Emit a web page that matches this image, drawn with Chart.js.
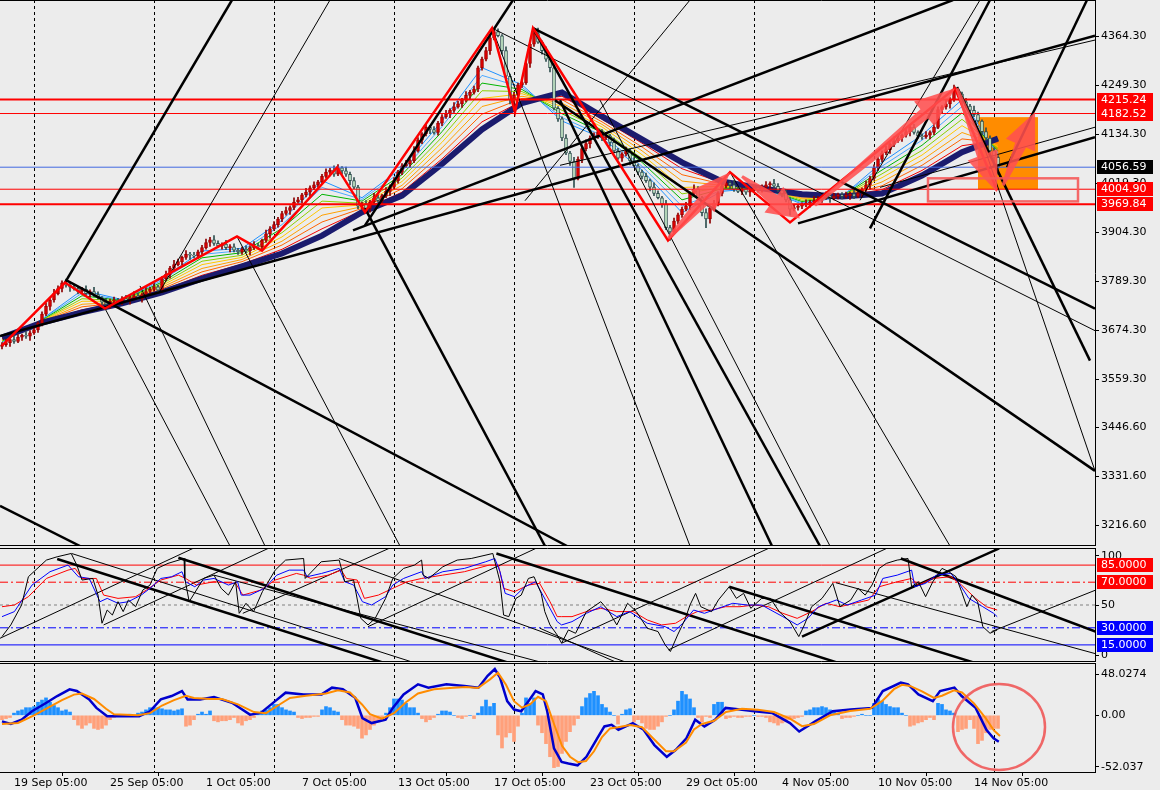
<!DOCTYPE html>
<html><head><meta charset="utf-8">
<script src="https://cdn.jsdelivr.net/npm/chart.js@4.4.1/dist/chart.umd.min.js"></script>
<style>
html,body{margin:0;padding:0;background:#ececec;width:1160px;height:790px;overflow:hidden}
.pane{position:absolute;left:0;width:1160px}
canvas{display:block}
</style></head><body>
<div class="pane" style="top:0;height:546px"><canvas id="cMain" width="1160" height="546"></canvas></div>
<div class="pane" style="top:548px;height:114px"><canvas id="cSto" width="1160" height="114"></canvas></div>
<div class="pane" style="top:663px;height:127px"><canvas id="cMacd" width="1160" height="127"></canvas></div>
<script>
// ---------------- DATA ----------------
const opens=[3636,3640,3645,3652,3648,3658,3662,3660,3668,3675,
3690,3712,3730,3745,3760,3772,3785,3780,3775,3772,
3765,3770,3760,3765,3758,3750,3740,3735,3742,3745,
3740,3748,3744,3750,3755,3748,3758,3765,3770,3776,
3768,3795,3805,3820,3828,3835,3845,3852,3850,3848,
3858,3868,3880,3886,3878,3872,3876,3868,3870,3862,
3858,3864,3860,3868,3872,3870,3885,3900,3912,3922,
3935,3948,3955,3962,3975,3980,3992,3998,4008,4015,
4022,4035,4045,4050,4040,4055,4048,4040,4025,4010,
3965,3970,3960,3975,3985,3978,3990,4000,4010,4025,
4045,4060,4065,4072,4095,4120,4135,4150,4145,4138,
4160,4175,4182,4190,4198,4205,4215,4225,4232,4240,
4290,4310,4330,4360,4375,4365,4330,4270,4215,4225,
4250,4255,4300,4345,4370,4350,4330,4310,4290,4195,
4170,4125,4090,4070,4030,4075,4100,4112,4125,4130,
4140,4125,4130,4115,4095,4078,4088,4095,4072,4060,
4045,4035,4025,4010,3995,3985,3970,3915,3905,3930,
3945,3958,3966,3995,4005,3985,3950,3935,3960,3972,
3995,4012,4020,4015,4005,4000,4005,3998,4002,4008,
4004,4010,4015,4018,4012,4002,3995,3980,3958,3962,
3965,3968,3972,3975,3978,3982,3986,3990,3984,3988,
3992,3988,3990,3994,3988,3996,4005,4015,4030,4055,
4075,4090,4098,4110,4118,4125,4132,4140,4150,4138,
4130,4128,4132,4138,4150,4192,4198,4205,4215,4238,
4228,4210,4200,4190,4180,4165,4140,4125,4095,4080];
const highs=[3645,3653,3656,3662,3664,3665,3671,3673,3682,3694,
3717,3738,3749,3770,3778,3790,3794,3785,3782,3776,
3775,3778,3769,3775,3764,3753,3749,3747,3752,3749,
3753,3756,3754,3765,3761,3761,3774,3775,3783,3780,
3800,3813,3824,3838,3841,3848,3861,3857,3857,3862,
3873,3888,3892,3896,3884,3879,3885,3875,3877,3866,
3869,3872,3872,3882,3878,3888,3909,3917,3929,3939,
3953,3963,3966,3985,3986,3995,4007,4013,4022,4026,
4040,4053,4054,4060,4063,4058,4057,4045,4032,4014,
3975,3978,3979,3995,3991,3993,4009,4015,4032,4049,
4065,4073,4076,4105,4126,4138,4159,4155,4152,4164,
4180,4190,4194,4208,4211,4218,4234,4237,4247,4294,
4315,4338,4364,4383,4381,4368,4339,4275,4232,4254,
4260,4308,4349,4380,4383,4353,4339,4315,4297,4199,
4175,4133,4094,4080,4081,4103,4121,4130,4137,4144,
4145,4138,4134,4125,4101,4091,4104,4100,4079,4064,
4050,4043,4029,4020,4001,3988,3979,3920,3937,3949,
3963,3974,3999,4015,4011,3988,3959,3965,3979,3999,
4017,4028,4024,4025,4011,4008,4014,4007,4015,4012,
4015,4023,4022,4028,4018,4005,4004,3985,3969,3969,
3973,3980,3979,3988,3988,3989,3999,3995,3995,3996,
3997,3998,3998,4004,4002,4008,4024,4035,4062,4079,
4095,4106,4114,4128,4131,4135,4149,4155,4157,4142,
4135,4140,4142,4160,4198,4201,4214,4220,4249,4242,
4233,4218,4204,4200,4186,4168,4149,4130,4102,4084];
const lows=[3630,3636,3636,3643,3645,3650,3655,3650,3664,3669,
3684,3708,3721,3740,3757,3764,3775,3765,3768,3759,
3759,3756,3751,3753,3747,3732,3730,3725,3738,3734,
3734,3740,3735,3745,3745,3740,3753,3755,3766,3762,
3762,3791,3796,3815,3825,3827,3840,3840,3844,3842,
3852,3864,3871,3873,3869,3864,3863,3858,3858,3852,
3852,3856,3851,3863,3867,3862,3880,3890,3908,3916,
3929,3944,3946,3957,3972,3972,3987,3988,4004,4009,
4016,4031,4036,4035,4037,4040,4035,4015,4006,3959,
3959,3956,3951,3970,3975,3970,3985,3990,4006,4019,
4039,4056,4056,4067,4092,4112,4130,4135,4134,4132,
4154,4171,4173,4185,4195,4197,4210,4215,4228,4234,
4284,4306,4321,4355,4362,4322,4265,4205,4190,4219,
4244,4251,4291,4340,4347,4322,4305,4280,4191,4164,
4119,4086,4061,4009,4027,4067,4095,4102,4121,4124,
4119,4121,4106,4090,4075,4070,4083,4062,4056,4039,
4029,4021,4001,3990,3982,3962,3910,3885,3901,3924,
3939,3954,3957,3990,3982,3942,3915,3925,3956,3966,
3989,4008,4006,4000,3997,3992,3993,3988,3998,3998,
3998,4006,4006,4007,3999,3987,3975,3944,3954,3956,
3959,3964,3963,3970,3975,3974,3981,3974,3980,3982,
3982,3984,3981,3983,3985,3988,4000,4005,4026,4049,
4069,4086,4089,4105,4115,4117,4127,4130,4134,4124,
4122,4124,4123,4133,4147,4184,4193,4195,4211,4222,
4204,4196,4181,4175,4162,4132,4120,4085,4060,4040];
const closes=[3640,3645,3652,3648,3658,3662,3660,3668,3675,3690,
3712,3730,3745,3760,3772,3785,3780,3775,3772,3765,
3770,3760,3765,3758,3750,3740,3735,3742,3745,3740,
3748,3744,3750,3755,3748,3758,3765,3770,3776,3768,
3795,3805,3820,3828,3835,3845,3852,3850,3848,3858,
3868,3880,3886,3878,3872,3876,3868,3870,3862,3858,
3864,3860,3868,3872,3870,3885,3900,3912,3922,3935,
3948,3955,3962,3975,3980,3992,3998,4008,4015,4022,
4035,4045,4050,4040,4055,4048,4040,4025,4010,3965,
3970,3960,3975,3985,3978,3990,4000,4010,4025,4045,
4060,4065,4072,4095,4120,4135,4150,4145,4138,4160,
4175,4182,4190,4198,4205,4215,4225,4232,4240,4290,
4310,4330,4360,4375,4365,4330,4270,4215,4225,4250,
4255,4300,4345,4370,4350,4330,4310,4290,4195,4170,
4125,4090,4070,4030,4075,4100,4112,4125,4130,4140,
4125,4130,4115,4095,4078,4088,4095,4072,4060,4045,
4035,4025,4010,3995,3985,3970,3915,3905,3930,3945,
3958,3966,3995,4005,3985,3950,3935,3960,3972,3995,
4012,4020,4015,4005,4000,4005,3998,4002,4008,4004,
4010,4015,4018,4012,4002,3995,3980,3958,3962,3965,
3968,3972,3975,3978,3982,3986,3990,3984,3988,3992,
3988,3990,3994,3988,3996,4005,4015,4030,4055,4075,
4090,4098,4110,4118,4125,4132,4140,4150,4138,4130,
4128,4132,4138,4150,4192,4198,4205,4215,4238,4228,
4210,4200,4190,4180,4165,4140,4125,4095,4080,4056.59];

// moving-average ribbon, fastest to slowest (sampled bars)
const ribIdx=[0,10,20,30,40,50,60,70,80,90,100,110,120,130,140,150,160,170,180,190,200,210,220,230,240,249];
const rib1=[3645,3700,3768,3746,3795,3860,3866,3932,4025,3985,4055,4165,4290,4250,4165,4125,4050,3950,4000,4008,3970,3988,4068,4132,4215,4085];
const rib2=[3646,3699,3761,3745,3791,3852,3861,3922,4009,3981,4047,4152,4272,4244,4173,4131,4059,3965,4003,4008,3973,3988,4059,4120,4199,4090];
const rib3=[3648,3698,3755,3744,3787,3844,3856,3913,3993,3977,4039,4140,4254,4239,4182,4138,4068,3980,4006,4008,3976,3988,4050,4108,4184,4095];
const rib4=[3649,3697,3748,3743,3783,3836,3850,3903,3977,3972,4031,4127,4236,4234,4190,4144,4077,3994,4009,4008,3979,3988,4041,4096,4169,4100];
const rib5=[3651,3696,3742,3742,3779,3828,3845,3893,3961,3968,4023,4115,4218,4229,4199,4151,4086,4009,4012,4008,3982,3988,4032,4085,4154,4105];
const rib6=[3652,3695,3735,3740,3775,3819,3840,3883,3944,3964,4014,4102,4199,4223,4207,4157,4095,4024,4014,4007,3984,3988,4022,4073,4138,4109];
const rib7=[3654,3694,3729,3739,3771,3811,3835,3874,3928,3960,4006,4089,4181,4218,4215,4163,4104,4039,4017,4007,3987,3988,4013,4061,4123,4114];
const rib8=[3655,3693,3722,3738,3767,3803,3829,3864,3912,3955,3998,4076,4163,4212,4223,4169,4113,4053,4020,4007,3990,3988,4004,4049,4107,4119];
const navyMA=[3657,3692,3716,3737,3763,3795,3824,3854,3896,3951,3990,4064,4145,4207,4232,4176,4122,4068,4023,4007,3993,3988,3995,4037,4092,4124];

// price levels and axis
const hLevels=[4215.24,4182.52,4056.59,4004.90,3969.84];
const priceTags=[4215.24,4182.52,4056.59,4004.90,3969.84];
const yTicks=[4364.30,4249.30,4134.30,4019.30,3904.30,3789.30,3674.30,3559.30,3446.60,3331.60,3216.60];
const timeIdx=[3,27,51,75,99,123,147,171,195,219,243];
const timeLabels=['19 Sep 05:00','25 Sep 05:00','1 Oct 05:00','7 Oct 05:00','13 Oct 05:00','17 Oct 05:00','23 Oct 05:00','29 Oct 05:00','4 Nov 05:00','10 Nov 05:00','14 Nov 05:00'];
const gridIdx=[8,38,68,98,128,158,188,218,248];

// drawings on price chart: [bar1, price1, bar2, price2]
const zigzag=[[0,3638],[15.75,3786],[25.75,3725],[58.75,3894],[65,3861],[83.75,4056],[90.75,3951],[122.5,4383],[128.25,4186],[132.75,4383],[166.5,3885],[182,4045],[197,3927],[238.25,4242],[248.75,4002]];
const thickMain=[
[-0.5,3261.8,19.5,3167.8],[16.25,3790.7,141.25,3167.8],[90.75,3960,135.75,3167.8],
[132.75,4383,273.25,3724.9],[138.25,4213.8,273.25,3344.1],[-0.5,3660.5,273.25,4365],
[199,3924.7,273.25,4126.9],[15.75,3786,57.5,4448.9],[238.75,4244.4,272,3602.7],
[251.25,4056.4,271.25,4448.9],[87.75,3908.3,237.75,4448.9],[217,3912.9,247,4448.9],
[132.75,4383,204.5,3167.8],[139.5,4213.8,192.5,3167.8],[90.75,3920,127.75,4448.9]];
const thinMain=[
[25.75,3725,57,3167.8],[34.5,3778,65.75,3167.8],[58.75,3894,99.5,3167.8],
[122.5,4383,172,3167.8],[149.5,4214,207,3167.8],
[182,4045,237,3167.8],[39.5,3766,82,4448.9],
[130.75,3978,172,4448.9],[214.5,3979,244.5,4448.9],[122.5,4383,273.25,3673],
[219.5,4009.3,273.25,4150.4],[139.5,4061,273.25,4354.9],[243.25,4166.8,273.25,3344.1]];
const arrows=[[166.5,3889,182,4045],[185,4035,199.5,3936],[203.25,3967,238.25,4242],[238.75,4242,248.75,3998],[250.25,4014,258.25,4186]];
const orangeBox=[244,4174,259,4005];
const redBox=[231.5,4030.5,269,3976.4];

// stochastic
const stochK=[[0,22.3],[2.2,32.5],[4.9,50],[6.6,74.8],[11.1,89.4],[13.8,92.3],[17.3,95.2],[18.7,85],[20,71.9],[22.7,73.3],[24,58.7],[25,34],[26.3,45.6],[27.6,41.2],[29,52.9],[30.3,44.2],[31.6,54.4],[33.4,48.5],[35.2,63.1],[37,67.5],[38.8,82.1],[41.5,86.5],[45.5,90.8],[45.7,73.3],[46.8,52.9],[50.4,73.3],[53,76.2],[54.8,64.6],[56.6,58.7],[58.4,70.4],[59.3,42.7],[61,51.5],[62.9,44.2],[65.1,61.7],[68.3,80.6],[70.9,89.4],[75.4,90.8],[75.8,73.3],[79.8,87.9],[84.3,89.4],[85.7,70.4],[87.9,71.9],[89.7,38.3],[91.5,32.5],[93.3,38.3],[95.9,55.8],[97.7,73.3],[100.4,82.1],[103.1,85],[104.9,89.4],[105.3,76.2],[106.7,73.3],[110.2,83.5],[113.8,89.4],[117.3,90.8],[122.7,95.2],[124.5,70.4],[125.4,41.2],[126.7,39.8],[128.5,55.8],[129.8,58.7],[131.6,73.3],[133,74.8],[134.8,60.2],[135.7,44.2],[137,32.5],[138.8,23.7],[139.9,16.5],[141.6,28.1],[143.4,25.2],[146.1,44.2],[149.7,52.9],[151.5,45.6],[153.7,32.5],[156.4,51.5],[158.6,44.2],[161.3,29.6],[164,26.7],[165.8,15],[167.1,9.2],[168.9,23.7],[170.7,36.9],[172,50],[173.4,60.2],[174.7,48.5],[177.4,44.2],[179.1,54.4],[181.8,66],[183.6,55.8],[185.4,60.2],[187.2,47.1],[189.9,55.8],[192.1,55.8],[194.3,44.2],[197,35.4],[199.2,22.3],[200.6,32.5],[202.4,48.5],[205,55.8],[207.7,69],[209.5,48.5],[212.2,54.4],[214,64.6],[215.8,58.7],[217.5,67.5],[219.3,82.1],[221.1,86.5],[223.8,89.4],[226.5,90.8],[227.4,66],[229.1,70.4],[230.9,57.3],[232.7,70.4],[235,82.1],[236.7,79.2],[238.5,74.8],[239.9,61.7],[241.2,48.5],[242.5,58.7],[243.9,52.9],[245.2,31],[247,25.2],[248.8,28.1]];
const stochD=[[0,39.8],[3.1,44.2],[7.5,67.5],[12,79.2],[16.5,85],[19.1,74.8],[21.8,73.3],[24.5,52.9],[26.3,55.8],[29,51.5],[31.6,52.9],[34.8,58.7],[37,64.6],[39.7,73.3],[42.4,74.8],[45,79.2],[45.9,70.4],[48.2,66],[50.4,71.9],[53,73.3],[56.6,67.5],[58.9,70.4],[59.8,58.7],[62,58.7],[65.6,64.6],[68.7,76.2],[71.8,80.6],[75.4,80.6],[76.3,74.8],[79.9,77.7],[84.3,82.1],[85.7,70.4],[87.9,67.5],[90.1,52.9],[92.4,50],[95.9,57.3],[97.7,67.5],[100.4,73.3],[104.9,79.2],[105.8,73.3],[110.2,79.2],[115.6,82.1],[120.9,87.9],[123.2,90.8],[124.5,79.2],[125.8,60.2],[128.1,57.3],[130.7,66],[133.4,70.4],[136.1,52.9],[138.8,35.4],[139.9,32.5],[142.5,35.4],[146.1,42.7],[149.7,48.5],[153.7,39.8],[156.9,44.2],[161.3,34],[165.8,31],[168,26.7],[170.2,34],[172.9,45.6],[175.6,42.7],[179.1,47.1],[182.7,51.5],[186.3,50],[189.9,50],[195.2,39.8],[198.8,32.5],[201.5,38.3],[204.1,48.5],[208.6,54.4],[211.3,50],[214.9,54.4],[218.4,58.7],[220.2,73.3],[223.8,76.2],[227.4,80.6],[228.2,66],[230.9,69],[233.6,76.2],[237.2,77.7],[239,70.4],[241.7,55.8],[245.2,48.5],[247.9,42.7],[248.8,39.8]];
const stochS=[[0,48.5],[3.1,50],[6.6,57.3],[11.1,73.3],[16.5,80.6],[18.3,82.1],[20,73.3],[23.6,73.3],[25.4,58.7],[29,55.8],[33.4,57.3],[36.1,63.1],[39.7,71.9],[44.1,76.2],[45.9,73.3],[48.6,67.5],[53,70.4],[58.4,69],[60.2,58.7],[64.7,63.1],[68.3,71.9],[73.6,77.7],[75.4,76.2],[77.2,73.3],[81.6,76.2],[84.8,80.6],[86.1,73.3],[88.8,71.9],[90.6,55.8],[94.1,58.7],[97.7,64.6],[101.3,70.4],[104.9,73.3],[110.2,76.2],[115.6,79.2],[121.8,85],[124.1,85],[125.4,64.6],[128.1,61.7],[131.6,67.5],[134.4,69],[137,52.9],[138.8,39.8],[139.9,39.8],[142.5,39.8],[146.1,44.2],[149.7,47.1],[153.7,44.2],[157.8,44.2],[161.3,36.9],[164.9,32.5],[168.4,34],[171.1,39.8],[173.8,44.2],[177.4,45.6],[180.9,48.5],[184.5,48.5],[188.1,50],[191.6,48.5],[195.2,42.7],[198.8,38.3],[202.4,44.2],[206,51.5],[209.5,48.5],[213.1,51.5],[216.7,54.4],[219.3,66],[223.8,70.4],[227.4,73.3],[229.1,67.5],[232.7,73.3],[237.2,74.8],[239.9,67.5],[243.4,55.8],[246.1,48.5],[248.8,45.6]];
const stochLevels=[85,70,50,30,15];
const stochTagLevels=[85,70,30,15];
const stochTicks=[93,50,6];
const stochTickLabels=['100','50','0'];
const thickSto=[[13.8,90.3,99.3,-5],[44.1,91.4,130.5,-5],[123.6,95.2,212.8,-5],[181.8,66,247.1,-5],[224.7,90.8,274.5,25.2],[200,22.3,249.3,99.6]];
const thinSto=[[-0.5,20.8,49.5,102.5],[25.4,32.5,68.3,102.5],[60.2,42.7,98.6,102.5],[91.5,31,135.2,102.5],[139.9,16.5,193.4,102.5],[166.6,10.6,222.9,102.5],[247.4,26.7,274.5,64.6],[17.4,95.2,107,-5],[53,76.2,139.9,-5],[84.3,90.8,159.8,-5],[134.5,29.6,157.8,-6.9],[208.5,69.5,274.5,6.2]];

// MACD
const macdHist=[-4,-3,-2,2,4,5,7,7,8,12,
14,16,12,9,7,4,5,3,-4,-9,
-12,-9,-7,-12,-13,-12,-9,-4,-2,-1,
0,0,1,0,2,3,5,7,7,7,
6,5,5,4,5,6,-10,-9,-4,1,
3,1,4,-5,-6,-5,-5,-4,-2,-7,
-9,-5,-4,-2,2,4,5,7,10,10,
7,5,4,3,-2,-3,-2,-2,-1,-1,
5,8,7,4,3,-4,-9,-9,-10,-12,
-21,-18,-13,-9,-6,-4,2,7,15,15,
14,11,7,7,2,-3,-6,-4,-2,1,
4,4,3,0,-2,-3,-1,0,-3,2,
8,14,8,11,-18,-30,-20,-16,-24,-10,
2,16,11,16,-9,-16,-26,-38,-48,-47,
-35,-24,-15,-9,-3,8,16,20,22,18,
10,7,3,0,-8,1,5,6,-6,-4,
-7,-12,-13,-13,-10,-6,-1,0,5,13,
22,19,15,7,-2,-6,-1,-2,10,12,
12,-3,-2,-1,-2,-2,-1,-1,0,-1,
-1,-2,-6,-7,-9,-7,-6,-4,-3,-2,
-1,4,5,7,7,8,7,5,4,2,
-3,-2,-2,-1,0,1,0,0,11,15,
13,10,8,7,7,2,0,-10,-9,-7,
-6,-4,-2,-4,11,10,5,4,2,-15,
-13,-12,-4,-12,-26,-23,-16,-13,-12,-12];
const macdLine=[[0,-5.6],[2.2,-8],[4.9,-4],[7.5,3.7],[11.1,11.5],[13.8,17.7],[16.9,23.9],[18.7,22.3],[21.8,14.6],[23.6,6.8],[26.3,-0.9],[34.3,-0.9],[37,3.7],[39.7,14.6],[42.4,17.7],[45,22.3],[46.4,14.6],[49.5,14.6],[53,16.7],[57.5,11.5],[62,0.6],[64.7,2.2],[68.3,13],[70.9,20.8],[75.4,19.2],[79.9,19.2],[82.5,25.4],[85.2,23.9],[88.3,16.1],[90.1,-2.5],[92.4,-7.1],[95.9,-4],[97.7,6.8],[100.4,19.2],[104,28.5],[106.6,25.4],[111.1,28.5],[115.6,27],[119.1,25.4],[121.4,36.3],[123.2,42.5],[124.5,34.7],[126.3,13],[128,5.3],[129.8,3.7],[131.6,13],[133.4,22.3],[135.2,19.2],[136.3,3.7],[138,-30.4],[139.9,-42.8],[141.6,-44.3],[143.9,-45.9],[146.1,-38.1],[148.8,-21.1],[150.6,-10.2],[152.4,-8.7],[154.1,-13.3],[157.7,-7.1],[160.4,-13.3],[163.1,-27.3],[166.2,-38.1],[168.4,-31.9],[171.1,-21.1],[173.3,-4],[175.6,-10.2],[178.3,-4],[180.9,6.8],[184.5,5.3],[188.1,3.7],[192.5,2.2],[197,-7.1],[199.3,-14.9],[203.3,-5.6],[207.7,3.7],[212.2,5.3],[217.5,6.8],[220.2,22.3],[224.7,30.1],[226.5,28.5],[229.1,19.2],[232.7,13],[234.5,22.3],[238.1,25.4],[239.9,17.7],[243.4,6.8],[246.1,-13.3],[247.9,-21.1],[249.2,-24.2]];
const macdSignal=[[0,-8],[4,-7],[8,0],[12,8],[15,14],[18,19],[20,20],[23,15],[26,6],[28,1],[34,0],[37,2],[40,9],[43,14],[46,18],[48,16],[52,15],[55,15],[59,10],[63,3],[66,2],[69,9],[72,16],[76,18],[81,20],[84,23],[87,21],[90,10],[92,1],[95,-3],[98,2],[101,12],[104,20],[108,24],[112,25],[116,26],[119,25],[122,33],[124,39],[126,28],[128,13],[130,7],[132,10],[134,17],[136,13],[138,-8],[140,-28],[142,-38],[144,-43],[146,-42],[148,-33],[150,-20],[152,-12],[154,-11],[157,-9],[160,-11],[163,-22],[166,-33],[168,-33],[171,-25],[173,-13],[175,-8],[178,-5],[181,3],[185,6],[189,5],[193,3],[197,-3],[200,-10],[203,-8],[207,0],[212,4],[217,6],[220,13],[223,24],[225,28],[227,27],[230,22],[233,16],[235,18],[238,23],[240,21],[243,11],[246,-3],[248,-14],[249.5,-19]];
const macdTicks=[37.9,0,-47.2];
const macdTickLabels=['48.0274','0.00','-52.037'];
const circleBox=[237.75,28.75,260.75,-50.2];

// ---------------- SETUP ----------------
const X_MIN=-0.5, X_MAX=273.25;
const FONT={family:'DejaVu Sans',size:11};
Chart.defaults.font.family='DejaVu Sans';
Chart.defaults.font.size=11;
Chart.defaults.color='#000';

function seg(s){return [{x:s[0],y:s[1]},{x:s[2],y:s[3]}];}
function pairs(a){return a.map(p=>({x:p[0],y:p[1]}));}
function lineDS(data,color,width,order,dash){return {type:'line',data,borderColor:color,borderWidth:width,pointRadius:0,fill:false,tension:0,order,borderDash:dash||[]};}
function xScale(show){
  return {type:'linear',min:X_MIN,max:X_MAX,offset:false,display:show,grid:{display:false},border:{display:false},
    afterFit(s){s.paddingLeft=0;s.paddingRight=0;}};
}
function yAxis(min,max,ticks,labelFn){
  return {position:'right',min,max,
    afterFit(s){s.width=65;s.paddingTop=0;s.paddingBottom=0;},
    afterBuildTicks(s){s.ticks=ticks.map(v=>({value:v}));},
    ticks:{autoSkip:false,padding:2,color:'#000',font:FONT,callback:labelFn},
    grid:{display:true,drawOnChartArea:false,drawTicks:true,tickLength:4,color:'#000'},
    border:{display:true,color:'#000',width:1}};
}
function vGrid(chart){
  const ctx=chart.ctx, ca=chart.chartArea, xs=chart.scales.x;
  ctx.save();ctx.strokeStyle='#000';ctx.lineWidth=1;ctx.setLineDash([3,3]);
  gridIdx.forEach(g=>{const x=Math.round(xs.getPixelForValue(g))+0.5;ctx.beginPath();ctx.moveTo(x,ca.top);ctx.lineTo(x,ca.bottom);ctx.stroke();});
  ctx.restore();
}
function frame(chart,top,bottom){
  const ctx=chart.ctx, ca=chart.chartArea;
  ctx.save();ctx.strokeStyle='#000';ctx.lineWidth=1;ctx.setLineDash([]);
  ctx.beginPath();
  if(top){ctx.moveTo(0,ca.top+0.5);ctx.lineTo(ca.right,ca.top+0.5);}
  if(bottom){ctx.moveTo(0,ca.bottom-0.5);ctx.lineTo(ca.right,ca.bottom-0.5);}
  ctx.stroke();ctx.restore();
}
function tag(ctx,y,text,bg){
  ctx.fillStyle=bg;ctx.fillRect(1097,Math.round(y)-7,56,14);
  ctx.fillStyle='#fff';ctx.font='11px "DejaVu Sans"';ctx.textBaseline='middle';ctx.textAlign='left';
  ctx.fillText(text,1101,Math.round(y)+0.5);
}
function arrow(ctx,x1,y1,x2,y2){
  const dx=x2-x1,dy=y2-y1,L=Math.hypot(dx,dy),ux=dx/L,uy=dy/L,nx=-uy,ny=ux;
  const hl=Math.min(40,L*0.45),hw=16,sw0=1.5,sw1=6;
  const bx=x2-ux*hl,by=y2-uy*hl;
  ctx.beginPath();
  ctx.moveTo(x1+nx*sw0,y1+ny*sw0);ctx.lineTo(bx+nx*sw1,by+ny*sw1);ctx.lineTo(bx+nx*hw,by+ny*hw);
  ctx.lineTo(x2,y2);ctx.lineTo(bx-nx*hw,by-ny*hw);ctx.lineTo(bx-nx*sw1,by-ny*sw1);ctx.lineTo(x1-nx*sw0,y1-ny*sw0);
  ctx.closePath();ctx.fill();
}
const baseOpts={responsive:false,maintainAspectRatio:false,animation:false,devicePixelRatio:1,events:[],
  layout:{padding:0},plugins:{legend:{display:false},tooltip:{enabled:false}}};

// ---------------- MAIN PRICE CHART ----------------
const bull=closes.map((c,i)=>c>=opens[i]);
const mainDS=[];
const ribbons=[rib1,rib2,rib3,rib4,rib5,rib6,rib7,rib8];
const ribColors=['#1E90FF','#4AA8FF','#00B400','#8CD000','#FFC800','#FFA000','#FF6400','#F00000'];
ribbons.forEach((arr,k)=>{
  mainDS.push(lineDS(arr.map((v,j)=>({x:ribIdx[j],y:v})),ribColors[k],1,70-k));
});
mainDS.push(lineDS(navyMA.map((v,j)=>({x:ribIdx[j],y:v})),'#1B1B6E',6,50));
mainDS.push({type:'bar',grouped:false,order:45,barThickness:1,
  data:closes.map((c,i)=>({x:i,y:[lows[i],highs[i]]})),
  backgroundColor:bull.map(b=>b?'#8B0000':'#2F4F4F')});
mainDS.push({type:'bar',grouped:false,order:44,barThickness:3,minBarLength:1,borderSkipped:false,borderWidth:1,
  data:closes.map((c,i)=>({x:i,y:[opens[i],c]})),
  backgroundColor:bull.map(b=>b?'#E00000':'#CDEFCD'),
  borderColor:bull.map(b=>b?'#A00000':'#2F4F4F')});
const hColors=['#FF0000','#FF0000','#4169E1','#FF0000','#FF0000'];
const hWidths=[2,1,1,1,2];
hLevels.forEach((v,k)=>mainDS.push(lineDS([{x:X_MIN,y:v},{x:X_MAX,y:v}],hColors[k],hWidths[k],30)));
thinMain.forEach(s=>mainDS.push(lineDS(seg(s),'#000',1,22)));
thickMain.forEach(s=>mainDS.push(lineDS(seg(s),'#000',2.5,21)));
mainDS.push(lineDS(pairs(zigzag),'#FF0000',2.5,10));

new Chart(document.getElementById('cMain'),{
  type:'bar',data:{datasets:mainDS},
  options:Object.assign({},baseOpts,{
    scales:{x:xScale(false),y:yAxis(3167.8,4448.9,yTicks,v=>Number(v).toFixed(2))}
  }),
  plugins:[{id:'mainOverlay',
    beforeDatasetsDraw(chart){
      const ctx=chart.ctx,xs=chart.scales.x,ys=chart.scales.y;
      vGrid(chart);
      ctx.save();ctx.fillStyle='#FF8C00';
      const x1=xs.getPixelForValue(orangeBox[0]),x2=xs.getPixelForValue(orangeBox[2]);
      const y1=ys.getPixelForValue(orangeBox[1]),y2=ys.getPixelForValue(orangeBox[3]);
      ctx.fillRect(x1,y1,x2-x1,y2-y1);ctx.restore();
    },
    afterDatasetsDraw(chart){
      const ctx=chart.ctx,ca=chart.chartArea,xs=chart.scales.x,ys=chart.scales.y;
      ctx.save();ctx.beginPath();ctx.rect(ca.left,ca.top,ca.right-ca.left,ca.bottom-ca.top);ctx.clip();
      ctx.fillStyle='rgba(255,80,80,0.88)';
      arrows.forEach(a=>arrow(ctx,xs.getPixelForValue(a[0]),ys.getPixelForValue(a[1]),xs.getPixelForValue(a[2]),ys.getPixelForValue(a[3])));
      ctx.strokeStyle='rgba(245,90,90,0.9)';ctx.lineWidth=2.5;
      const x1=xs.getPixelForValue(redBox[0]),x2=xs.getPixelForValue(redBox[2]);
      const y1=ys.getPixelForValue(redBox[1]),y2=ys.getPixelForValue(redBox[3]);
      ctx.strokeRect(x1,y1,x2-x1,y2-y1);
      ctx.restore();
    },
    afterDraw(chart){
      const ctx=chart.ctx,ys=chart.scales.y;
      frame(chart,true,true);
      ctx.save();
      const tagColors=['#FF0000','#FF0000','#000000','#FF0000','#FF0000'];
      priceTags.forEach((v,k)=>tag(ctx,ys.getPixelForValue(v),v.toFixed(2),tagColors[k]));
      ctx.restore();
    }}]
});

// ---------------- STOCHASTIC ----------------
const stoDS=[];
const lvlColors=['#FF0000','#FF0000','#808080','#0000FF','#0000FF'];
const lvlDash=[[],[8,3,2,3],[3,3],[8,3,2,3],[]];
stochLevels.forEach((v,k)=>stoDS.push(lineDS([{x:X_MIN,y:v},{x:X_MAX,y:v}],lvlColors[k],1,30,lvlDash[k])));
thinSto.forEach(s=>stoDS.push(lineDS(seg(s),'#000',1,22)));
thickSto.forEach(s=>stoDS.push(lineDS(seg(s),'#000',2.5,21)));
stoDS.push(lineDS(pairs(stochS),'#FF0000',1,12));
stoDS.push(lineDS(pairs(stochD),'#0000FF',1,11));
stoDS.push(lineDS(pairs(stochK),'#000000',1,10));
new Chart(document.getElementById('cSto'),{
  type:'line',data:{datasets:stoDS},
  options:Object.assign({},baseOpts,{
    scales:{x:xScale(false),y:yAxis(0,100,stochTicks,v=>stochTickLabels[stochTicks.indexOf(v)])}
  }),
  plugins:[{id:'stoOverlay',
    beforeDatasetsDraw(chart){vGrid(chart);},
    afterDraw(chart){
      const ctx=chart.ctx,ys=chart.scales.y;
      frame(chart,true,true);
      ctx.save();
      const tc=['#FF0000','#FF0000','#0000FF','#0000FF'];
      stochTagLevels.forEach((v,k)=>tag(ctx,ys.getPixelForValue(v),v.toFixed(4),tc[k]));
      ctx.restore();
    }}]
});

// ---------------- MACD ----------------
const macdDS=[];
macdDS.push({type:'bar',grouped:false,order:40,barThickness:3,
  data:macdHist.map((v,i)=>({x:i,y:v})),
  backgroundColor:macdHist.map(v=>v>=0?'#1E90FF':'#FFA07A')});
macdDS.push(lineDS(pairs(macdLine),'#0000CD',2.5,12));
macdDS.push(lineDS(pairs(macdSignal),'#FF8C00',2,11));
const xM=xScale(true);
xM.afterBuildTicks=s=>{s.ticks=timeIdx.map(v=>({value:v}));};
xM.afterFit=s=>{s.height=18;s.paddingLeft=0;s.paddingRight=0;};
xM.ticks={autoSkip:false,maxRotation:0,align:'start',padding:1,color:'#000',font:FONT,
  callback:v=>timeLabels[timeIdx.indexOf(v)]};
xM.grid={display:true,drawOnChartArea:false,drawTicks:true,tickLength:4,color:'#000'};
xM.border={display:true,color:'#000'};
new Chart(document.getElementById('cMacd'),{
  type:'bar',data:{datasets:macdDS},
  options:Object.assign({},baseOpts,{
    scales:{x:xM,y:yAxis(-52.037,48.0274,macdTicks,v=>macdTickLabels[macdTicks.indexOf(v)])}
  }),
  plugins:[{id:'macdOverlay',
    beforeDatasetsDraw(chart){vGrid(chart);},
    afterDatasetsDraw(chart){
      const ctx=chart.ctx,xs=chart.scales.x,ys=chart.scales.y;
      const x1=xs.getPixelForValue(circleBox[0]),x2=xs.getPixelForValue(circleBox[2]);
      const y1=ys.getPixelForValue(circleBox[1]),y2=ys.getPixelForValue(circleBox[3]);
      ctx.save();ctx.strokeStyle='rgba(240,80,80,0.85)';ctx.lineWidth=2.5;
      ctx.beginPath();ctx.ellipse((x1+x2)/2,(y1+y2)/2,Math.abs(x2-x1)/2,Math.abs(y2-y1)/2,0,0,Math.PI*2);ctx.stroke();
      ctx.restore();
    },
    afterDraw(chart){frame(chart,true,false);}
  }]
});
</script>
</body></html>
